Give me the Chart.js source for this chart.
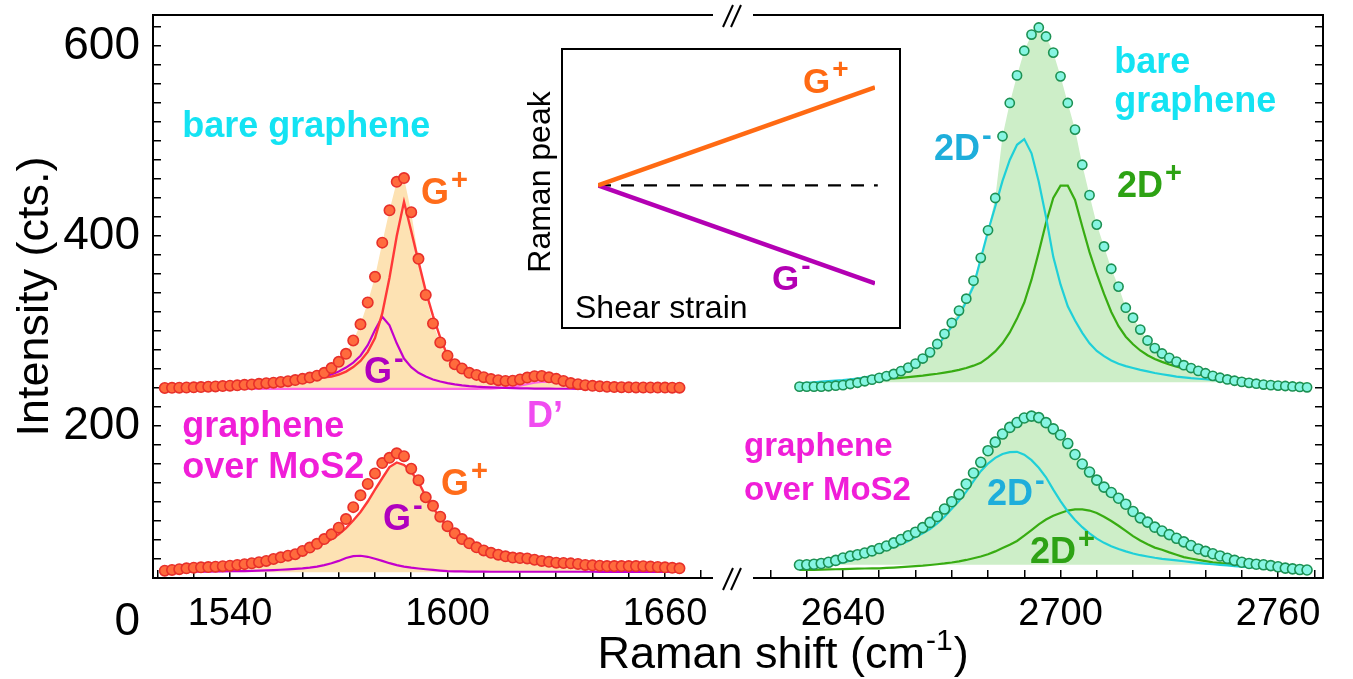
<!DOCTYPE html>
<html>
<head>
<meta charset="utf-8">
<script src="https://cdn.jsdelivr.net/npm/chart.js@4.4.1/dist/chart.umd.min.js"></script>
<style>
  html, body { margin: 0; padding: 0; background: #fff; }
  #wrap { position: relative; width: 1353px; height: 679px; }
  #inset { position: absolute; left: 510px; top: 44px; }
</style>
</head>
<body>
<div id="wrap">
  <canvas id="main" width="1353" height="679"></canvas>
  <canvas id="inset" width="400" height="292"></canvas>
</div>
<script>
// G band, Raman shift (cm-1)
const shiftG = [1522,1524,1526,1528,1530,1532,1534,1536,1538,1540,1542,1544,
  1546,1548,1550,1552,1554,1556,1558,1560,1562,1564,1566,1568,
  1570,1572,1574,1576,1578,1580,1582,1584,1586,1588,1590,1592,
  1594,1596,1598,1600,1602,1604,1606,1608,1610,1612,1614,1616,
  1618,1620,1622,1624,1626,1628,1630,1632,1634,1636,1638,1640,
  1642,1644,1646,1648,1650,1652,1654,1656,1658,1660,1662,1664];

// bare graphene, G band (offset spectrum)
const bareGDots = [240,240.2,240.3,240.5,240.7,241,241.3,241.6,242,242.4,242.8,243.3,
  243.8,244.4,245,245.6,246.3,247.2,248.3,249.6,251,253,256,261,
  267.5,276,290,307,330,357,393,427,457,461,425,376,
  338,308,288,274,265,260.5,256,253.8,251.4,249.4,248.2,247.4,
  247.6,249,251,252.4,252.6,251.2,249.6,247.4,245.2,244,243,242.3,
  241.8,241.3,241,240.8,240.7,240.6,240.5,240.5,240.4,240.4,240.3,240.3];
const bareGFit = [239.8,240,240.1,240.3,240.5,240.7,241,241.3,241.6,242,242.4,242.8,
  243.3,243.8,244.4,245,245.7,246.4,247.2,248.2,249.2,250.2,251.2,252,
  254.2,257.3,262,268.5,278,292.5,318.5,356,400,436,405,373,
  342,316,293,274,264,259,255.5,253,251,249.5,248.3,247.5,
  247.4,248.2,249.6,250.8,251.2,250.6,249.2,247.6,246,244.6,243.5,242.7,
  242,241.5,241.1,240.8,240.6,240.4,240.3,240.2,240.1,240,240,240];
const bareGMinus = [239.5,239.6,239.7,239.8,239.9,240,240.2,240.4,240.6,240.8,241,241.3,
  241.6,242,242.5,243.1,243.8,244.6,245.6,246.8,248.2,249.8,251.8,254.3,
  257.4,261.5,266.8,274,285,301,315,306,287,271,262,256,
  252,249,246.8,245.1,243.8,242.8,242,241.4,241,240.6,240.3,240,
  239.8,239.6,239.5,239.4,239.3,239.3,239.2,239.2,239.2,239.1,239.1,239.1,
  239.1,239,239,239,239,239,239,239,239,239,239,239];
const bareGDprime = [239,239,239,239,239,239,239,239,239,239,239,239,
  239,239,239,239,239,239,239,239,239,239,239,239,
  239,239,239,239,239,239,239,239,239,239,239,239,
  239,239,239,239,239,239,239,239,239.2,239.4,239.8,240.4,
  241.3,242.5,244,245.5,246.5,246.6,245.5,243.8,242.2,241,240.2,239.7,
  239.4,239.2,239.1,239,239,239,239,239,239,239,239,239];

// graphene over MoS2, G band
const mosGDots = [47.7,48.5,49.3,50.2,50.9,51.2,51.5,51.9,52.4,53,53.7,54.6,
  55.5,56.6,58,60,61.8,63.5,65,68.5,72,76,81,86,
  93,102,114.6,127,139,150,161,166.5,171.2,168.2,155,143,
  125,116,104.5,94.5,87,81,76.5,72.3,69,66.5,64.5,62.8,
  61.5,61,60.6,59.2,58,57,56.1,55.8,55.4,54.8,53.8,53.3,
  52.9,52.6,52.6,52.6,52.6,52.6,52.4,52,51.6,51.2,50.7,50.2];
const mosGFit = [47,47.3,47.6,48,48.4,48.9,49.4,50,50.7,51.4,52.2,53,
  54,55.3,56.8,58.4,60.1,62.2,64.7,67.3,70,73,76.6,80.8,
  86,92.5,100.5,109.5,120.5,133,145,156.8,161.6,159,152,141,
  126,114,103,93.5,86.5,80.5,75.5,71.5,68,65.5,63.5,62,
  60.7,59.7,58.7,57.8,57,56.2,55.5,54.9,54.4,54,53.6,53.2,
  52.9,52.6,52.3,52.1,51.9,51.7,51.5,51.3,51.1,50.9,50.7,50.5];
const mosGMinus = [46.5,46.5,46.5,46.6,46.6,46.7,46.8,46.9,47,47.1,47.2,47.3,
  47.5,47.7,48,48.3,48.7,49.1,49.6,50.2,51,52,53.5,55.5,
  58,61,63,63.4,62.3,60.2,58,55.6,53.6,52,50.9,50,
  49.2,48.5,47.8,47.2,47,46.9,46.8,46.7,46.7,46.6,46.6,46.6,
  46.6,46.6,46.6,46.6,46.6,46.6,46.6,46.6,46.6,46.6,46.6,46.6,
  46.5,46.5,46.5,46.5,46.5,46.5,46.5,46.5,46.5,46.5,46.5,46.5];

// 2D band, Raman shift (cm-1)
const shift2D = [2628,2630,2632,2634,2636,2638,2640,2642,2644,2646,2648,2650,
  2652,2654,2656,2658,2660,2662,2664,2666,2668,2670,2672,2674,
  2676,2678,2680,2682,2684,2686,2688,2690,2692,2694,2696,2698,
  2700,2702,2704,2706,2708,2710,2712,2714,2716,2718,2720,2722,
  2724,2726,2728,2730,2732,2734,2736,2738,2740,2742,2744,2746,
  2748,2750,2752,2754,2756,2758,2760,2762,2764,2766,2768];

// bare graphene, 2D band
const bare2DDots = [241.4,241.4,241.4,241.4,241.8,242.4,243,244.2,245.5,247.1,248.8,250.6,
  252.5,254.8,257.8,261.5,265.6,271,277.5,286.3,297,308.6,321.5,334,
  353,377,406,440,505,540,569,595,612,619.5,610,593,
  568,540,512,475,443,412,389,365.5,346.7,324.5,314,301.5,
  290,282,276.3,271.7,267.7,264,261,258,255.5,252.8,250.8,249,
  247.6,246.4,245.4,244.5,243.6,243,242.5,242.1,241.6,241.1,240.7];
const bare2DMinus = [245,245.5,246,246.6,247.2,247.8,248.2,249,250,251.3,252.5,253.7,
  255.5,257.5,260,263.3,267.6,273,278.5,284.3,294,304.5,315.5,331,
  347,376,405,431,458,480,496,502,487,457,420,378,
  349,326,311,298,287,279,273.5,269,265.5,263,261,259,
  257.5,255.8,254.5,253.2,252,251.2,250.3,249.7,249.2,248.5,247.8,247,
  246.5,246,245.5,245,244.5,244,243.5,243,242.6,242.3,242];
const bare2DPlus = [243,243.5,244,244.5,245,245.5,246,246.6,247.2,247.8,248.3,248.8,
  249.5,250,250.7,251.4,252.2,253,254,255,256.2,257.5,259,261,
  263.5,266.5,272,278.5,287,298.5,313,330,354,383,414,440,
  453,453,438,410,383,360,339,320,305,294,286,279.5,
  274.5,270.5,267.5,264.8,262.5,260.5,258.8,257.3,256,254.5,253,251.7,
  250.6,249.8,248.7,247.5,246.2,245.2,244.2,243.2,242.5,241.8,241.3];

// graphene over MoS2, 2D band
const mos2DDots = [53.7,54,54.5,55.3,56.5,58.5,61,63,64.5,66.3,68.5,71,
  73.7,77,80.5,84.5,88.2,93,98.5,104.8,112.6,120.3,128,139,
  150.5,161.8,174,183,191.5,198.5,203.6,208.4,210.4,208.8,203.5,197,
  190.5,181.5,170,160,151.5,143,135.7,130,124,117.7,110,103.3,
  98.8,93.5,89.4,85.7,81.8,78,74.2,70.6,68,65.5,63.2,60.8,
  58.6,56.6,55.3,54.5,53.9,53,51.8,50.4,49.6,48.9,48.4];
const mos2DMinus = [52,52.4,52.8,53.3,53.8,55,56.5,58.3,60.5,63,65.5,67.8,
  70,72.5,75.5,79,83,87,91.5,97.5,104.5,113,121,131,
  142,152.5,160.5,166.5,170.5,172.5,172.8,169.8,164,156,146,133,
  121,110,101,93.5,87,81.5,77,73.5,70.5,68,65.8,64,
  62.6,61.3,60.2,59.3,58.5,57.6,56.8,56,55.2,54.5,53.8,53.2,
  52.6,52,51.5,51,50.5,50,49.6,49.2,48.9,48.6,48.4];
const mos2DPlus = [48.4,48.5,48.6,48.8,49,49.2,49.4,49.6,49.8,50,50.1,50.2,
  50.6,51,51.5,52,52.5,53,53.7,54.5,55.3,56.3,57.5,59,
  60.8,62.6,65,68,71.5,75,79,84.5,90.5,96.5,101.5,105.5,
  108.5,111,112.3,112.3,111,108.5,104.5,100,95,89.5,84,79.5,
  75.5,72,69.8,67,64.5,62,60.5,59,57.7,56.5,55.6,54.8,
  54,53.2,52.5,51.9,51.2,50.6,50,49.5,49,48.7,48.4];

// axis ticks
const ticksG = [1520,1530,1540,1550,1560,1570,1580,1590,1600,1610,1620,1630,1640,1650,1660,1670];
const labelsG = [1540,1600,1660];
const ticks2D = [2620,2630,2640,2650,2660,2670,2680,2690,2700,2710,2720,2730,2740,2750,2760,2770];
const labels2D = [2640,2700,2760];
const ticksY = [40,60,80,100,120,140,160,180,200,220,240,260,280,300,320,340,360,380,400,420,440,460,480,500,520,540,560,580,600,620];
const labelsY = [200,400,600];

// inset: schematic peak shift vs shear strain
const strain = [0, 1];
const peakGplus = [0, 1];
const peakGminus = [0, -1];
const strainRef = [0, 1.01];
const peakRef = [0, 0];

const FONT = '"Liberation Sans", Arial, Helvetica, sans-serif';
Chart.defaults.font.family = FONT;
Chart.defaults.color = '#000';

const pts = (xs, ys) => xs.map((x, i) => ({x: x, y: ys[i]}));

const C = {
  cyan: '#14e3f3', orange: '#ff6c1a', purple: '#b000bf', pink: '#f04cf0',
  magenta: '#f01ed8', blue: '#1eaedb', green: '#2da214'
};

const notes = [
  {ax: 'x1', x: 1526.8, y: 504, t: 'bare graphene', c: C.cyan},
  {ax: 'x1', x: 1592.7, y: 434, t: 'G', s: '+', c: C.orange},
  {ax: 'x1', x: 1577, y: 245, t: 'G', s: '-', c: C.purple},
  {ax: 'x1', x: 1621.9, y: 199, t: 'D\u2019', c: C.pink},
  {ax: 'x1', x: 1526.8, y: 188, t: 'graphene', c: C.magenta},
  {ax: 'x1', x: 1526.8, y: 145, t: 'over MoS2', c: C.magenta},
  {ax: 'x1', x: 1598.2, y: 127, t: 'G', s: '+', c: C.orange},
  {ax: 'x1', x: 1582.2, y: 90.5, t: 'G', s: '-', c: C.purple},
  {ax: 'x2', x: 2714.8, y: 572, t: 'bare', c: C.cyan},
  {ax: 'x2', x: 2714.8, y: 530, t: 'graphene', c: C.cyan},
  {ax: 'x2', x: 2665.1, y: 480, t: '2D', s: '-', c: C.blue},
  {ax: 'x2', x: 2715.6, y: 441, t: '2D', s: '+', c: C.green},
  {ax: 'x2', x: 2612.7, y: 168, t: 'graphene', c: C.magenta, z: 33},
  {ax: 'x2', x: 2612.7, y: 122, t: 'over MoS2', c: C.magenta, z: 33},
  {ax: 'x2', x: 2679.7, y: 117, t: '2D', s: '-', c: C.blue},
  {ax: 'x2', x: 2691.6, y: 56, t: '2D', s: '+', c: C.green}
];

function supText(ctx, t, s, x, y, size, weight) {
  ctx.font = weight + ' ' + size + 'px ' + FONT;
  ctx.fillText(t, x, y);
  if (!s) return;
  const w = ctx.measureText(t).width;
  ctx.font = weight + ' ' + Math.round(size * 0.8) + 'px ' + FONT;
  ctx.fillText(s, x + w + 2, y - size * 0.42);
}

const decor = {
  id: 'decor',
  afterDraw(chart) {
    const {ctx, chartArea: a, scales} = chart;
    const bx = scales.x1.right;
    ctx.save();
    // axis break
    ctx.fillStyle = '#fff';
    ctx.fillRect(bx - 20, a.bottom - 10, 40, 14);
    ctx.strokeStyle = '#000';
    ctx.lineWidth = 2;
    ctx.beginPath();
    ctx.moveTo(a.left, a.top); ctx.lineTo(bx - 20, a.top);
    ctx.moveTo(bx + 20, a.top); ctx.lineTo(a.right, a.top);
    ctx.stroke();
    [a.top, a.bottom].forEach(y => {
      ctx.beginPath();
      ctx.moveTo(bx - 10, y + 12); ctx.lineTo(bx, y - 10);
      ctx.moveTo(bx - 2, y + 12); ctx.lineTo(bx + 8, y - 10);
      ctx.stroke();
    });
    // "0" label below the axis
    ctx.fillStyle = '#000';
    ctx.textAlign = 'right';
    ctx.textBaseline = 'middle';
    ctx.font = '46px ' + FONT;
    ctx.fillText('0', 140, scales.y.getPixelForValue(0) + 6);
    // x title
    ctx.textBaseline = 'alphabetic';
    ctx.textAlign = 'left';
    ctx.font = '45px ' + FONT;
    const p1 = 'Raman shift (cm', p3 = ')';
    const w1 = ctx.measureText(p1).width, w3 = ctx.measureText(p3).width;
    ctx.font = '30px ' + FONT;
    const w2 = ctx.measureText('-1').width;
    let x0 = 783 - (w1 + w2 + w3 + 2) / 2;
    const yb = 668;
    ctx.font = '45px ' + FONT;
    ctx.fillText(p1, x0, yb);
    ctx.font = '30px ' + FONT;
    ctx.fillText('-1', x0 + w1 + 1, yb - 18);
    ctx.font = '45px ' + FONT;
    ctx.fillText(p3, x0 + w1 + w2 + 2, yb);
    // annotations
    notes.forEach(n => {
      ctx.fillStyle = n.c;
      supText(ctx, n.t, n.s, scales[n.ax].getPixelForValue(n.x), scales.y.getPixelForValue(n.y), n.z || 36, 'bold');
    });
    ctx.restore();
  }
};

const dotStyle = (fill, edge, r) => ({
  showLine: false, pointRadius: r, pointBorderWidth: 1.6,
  pointBackgroundColor: fill, pointBorderColor: edge, order: 0
});
const lineStyle = (color, w) => ({
  borderColor: color, borderWidth: w, pointRadius: 0, fill: false, order: 1
});

const datasets = [
  Object.assign({data: pts(shiftG, bareGDots), xAxisID: 'x1', yAxisID: 'y',
    fill: {value: 239}, backgroundColor: '#fde2b3'}, dotStyle('#ff6b3d', '#e8302a', 5.2)),
  Object.assign({data: pts(shiftG, bareGDprime), xAxisID: 'x1', yAxisID: 'y'}, lineStyle('#ff66e2', 2.2), {order: 2}),
  Object.assign({data: pts(shiftG, bareGFit), xAxisID: 'x1', yAxisID: 'y'}, lineStyle('#ff3838', 2.4)),
  Object.assign({data: pts(shiftG, bareGMinus), xAxisID: 'x1', yAxisID: 'y'}, lineStyle('#c400cc', 2.2)),

  Object.assign({data: pts(shiftG, mosGFit), xAxisID: 'x1', yAxisID: 'y'}, lineStyle('#ff3838', 2.4),
    {fill: {value: 46}, backgroundColor: '#fde2b3'}),
  Object.assign({data: pts(shiftG, mosGMinus), xAxisID: 'x1', yAxisID: 'y'}, lineStyle('#c400cc', 2.2)),
  Object.assign({data: pts(shiftG, mosGDots), xAxisID: 'x1', yAxisID: 'y'}, dotStyle('#ff6b3d', '#e8302a', 5.2)),

  Object.assign({data: pts(shift2D, bare2DDots), xAxisID: 'x2', yAxisID: 'y',
    fill: {value: 246}, backgroundColor: '#cdeec8'}, dotStyle('#86f5e2', '#1c9153', 4.6)),
  Object.assign({data: pts(shift2D, bare2DMinus), xAxisID: 'x2', yAxisID: 'y'}, lineStyle('#1fd0d8', 2.2)),
  Object.assign({data: pts(shift2D, bare2DPlus), xAxisID: 'x2', yAxisID: 'y'}, lineStyle('#38ac12', 2.2)),

  Object.assign({data: pts(shift2D, mos2DDots), xAxisID: 'x2', yAxisID: 'y',
    fill: {value: 54}, backgroundColor: '#cdeec8'}, dotStyle('#86f5e2', '#1c9153', 5)),
  Object.assign({data: pts(shift2D, mos2DMinus), xAxisID: 'x2', yAxisID: 'y'}, lineStyle('#1fd0d8', 2.2)),
  Object.assign({data: pts(shift2D, mos2DPlus), xAxisID: 'x2', yAxisID: 'y'}, lineStyle('#38ac12', 2.2))
];

const tickGrid = {drawOnChartArea: false, tickLength: -8, color: '#000', lineWidth: 1.5};
const frame = {color: '#000', width: 2};
const noPad = s => { s.paddingTop = 0; s.paddingBottom = 0; s.paddingLeft = 0; s.paddingRight = 0; };

const xAxis = (min, max, weight, tv, lv) => ({
  type: 'linear', position: 'bottom', stack: 'shift', stackWeight: weight,
  min: min, max: max,
  afterBuildTicks: s => { s.ticks = tv.map(v => ({value: v})); },
  afterFit: s => { s.height = 101; noPad(s); },
  ticks: {autoSkip: false, maxRotation: 0, padding: 22, font: {size: 38},
    callback: v => lv.includes(v) ? String(v) : ''},
  grid: tickGrid, border: frame
});

new Chart(document.getElementById('main'), {
  type: 'line',
  data: {datasets: datasets},
  options: {
    animation: false, responsive: false, devicePixelRatio: 1,
    layout: {padding: {top: 15, right: 0, bottom: 0, left: 0}},
    plugins: {legend: {display: false}, tooltip: {enabled: false}, filler: {drawTime: 'beforeDatasetsDraw'}},
    scales: {
      x1: xAxis(1518.76, 1678.76, 580, ticksG, labelsG),
      x2: xAxis(2609.66, 2772.4, 590, ticks2D, labels2D),
      y: {
        type: 'linear', position: 'left', min: 40, max: 632.6,
        afterBuildTicks: s => { s.ticks = ticksY.map(v => ({value: v})); },
        afterFit: s => { s.width = 153; noPad(s); },
        ticks: {autoSkip: false, padding: 21, font: {size: 46},
          callback: v => labelsY.includes(v) ? String(v) : ''},
        title: {display: true, text: 'Intensity (cts.)', font: {size: 45}, padding: {top: 9, bottom: 0}},
        grid: tickGrid, border: frame
      },
      y2: {
        type: 'linear', position: 'right', min: 40, max: 632.6,
        afterBuildTicks: s => { s.ticks = ticksY.map(v => ({value: v})); },
        afterFit: s => { s.width = 30; noPad(s); },
        ticks: {display: false},
        grid: tickGrid, border: frame
      }
    }
  },
  plugins: [decor]
});

// inset
const insetDecor = {
  id: 'insetDecor',
  beforeDraw(chart) {
    const ctx = chart.ctx;
    ctx.save();
    ctx.fillStyle = '#fff';
    ctx.fillRect(52, 5, 338, 279);
    ctx.strokeStyle = '#000';
    ctx.lineWidth = 2;
    ctx.strokeRect(52, 5, 338, 279);
    ctx.restore();
  },
  afterDraw(chart) {
    const ctx = chart.ctx;
    ctx.save();
    ctx.textAlign = 'left';
    ctx.textBaseline = 'alphabetic';
    ctx.fillStyle = '#ff6a13';
    supText(ctx, 'G', '+', 293, 49, 35, 'bold');
    ctx.fillStyle = '#b300b3';
    supText(ctx, 'G', '-', 262, 246, 35, 'bold');
    ctx.fillStyle = '#000';
    ctx.font = '32px ' + FONT;
    ctx.fillText('Shear strain', 65, 274);
    ctx.translate(40, 138);
    ctx.rotate(-Math.PI / 2);
    ctx.textAlign = 'center';
    ctx.fillText('Raman peak', 0, 0);
    ctx.restore();
  }
};

new Chart(document.getElementById('inset'), {
  type: 'line',
  data: {datasets: [
    {data: pts(strain, peakGplus), borderColor: '#ff6a13', borderWidth: 4.5, pointRadius: 0},
    {data: pts(strain, peakGminus), borderColor: '#b300b3', borderWidth: 4.5, pointRadius: 0},
    {data: pts(strainRef, peakRef), borderColor: '#000', borderWidth: 2.2, borderDash: [13, 10], pointRadius: 0, clip: false}
  ]},
  options: {
    animation: false, responsive: false, devicePixelRatio: 1,
    layout: {padding: {left: 88, right: 35, top: 23.7, bottom: 33.1}},
    plugins: {legend: {display: false}, tooltip: {enabled: false}},
    scales: {
      x: {type: 'linear', display: false, min: 0, max: 1},
      y: {display: false, min: -1.2, max: 1.2}
    }
  },
  plugins: [insetDecor]
});
</script>
</body>
</html>
